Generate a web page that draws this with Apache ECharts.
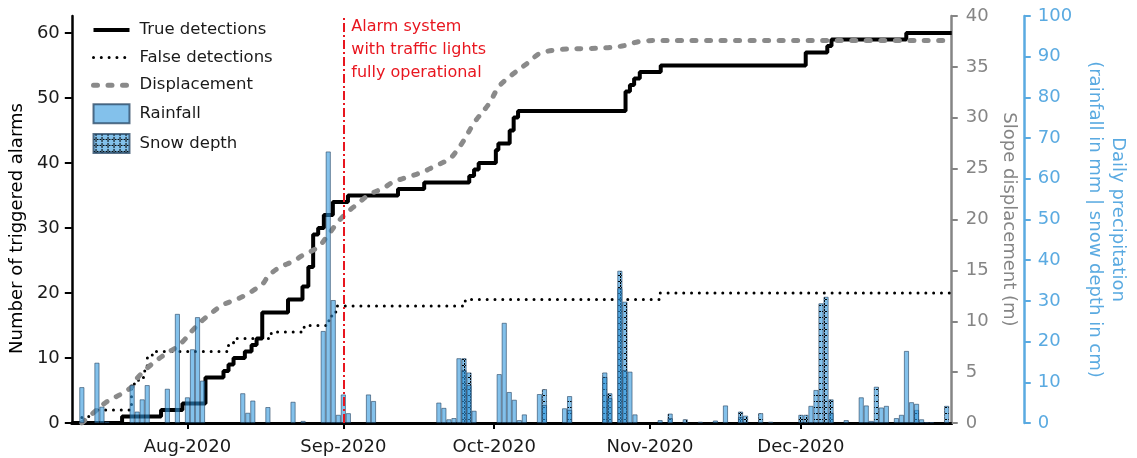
<!DOCTYPE html>
<html>
<head>
<meta charset="utf-8">
<script src="https://cdn.jsdelivr.net/npm/echarts@6/dist/echarts.min.js"></script>
<style>
  html, body { margin: 0; padding: 0; background: #fff; }
  #chart { width: 1137px; height: 458px; }
</style>
</head>
<body>
<div id="chart"></div>
<script>
// ---- data -------------------------------------------------------------
const periodStart = '2020-07-09';
const periodEnd = '2020-12-31';
const monthTicks = ['2020-08-01', '2020-09-01', '2020-10-01', '2020-11-01', '2020-12-01'];
const monthNames = ['Jan', 'Feb', 'Mar', 'Apr', 'May', 'Jun', 'Jul', 'Aug', 'Sep', 'Oct', 'Nov', 'Dec'];
const alarmCountTicks = [0, 10, 20, 30, 40, 50, 60];
const alarmSystemDate = '2020-09-01';
const alarmSystemNote = ['Alarm system', 'with traffic lights', 'fully operational'];

// cumulative number of true detections (time of each step, new total)
const trueDetections = [
  ['2020-07-09 00:00', 0], ['2020-07-19 00:00', 1], ['2020-07-26 18:00', 2], ['2020-07-31 00:00', 3],
  ['2020-08-04 14:00', 7], ['2020-08-08 04:00', 8], ['2020-08-09 04:00', 9], ['2020-08-10 04:00', 10],
  ['2020-08-12 10:00', 11], ['2020-08-13 18:00', 12], ['2020-08-14 18:00', 13], ['2020-08-15 21:00', 17],
  ['2020-08-21 00:00', 19], ['2020-08-23 21:00', 21], ['2020-08-25 01:00', 24], ['2020-08-26 00:00', 29],
  ['2020-08-27 00:00', 30], ['2020-08-28 03:00', 32], ['2020-08-29 22:00', 34], ['2020-09-01 22:00', 35],
  ['2020-09-11 21:00', 36], ['2020-09-17 02:00', 37], ['2020-09-26 01:00', 38], ['2020-09-27 00:00', 39],
  ['2020-09-27 22:00', 40], ['2020-10-01 08:00', 42], ['2020-10-01 20:00', 43], ['2020-10-04 02:00', 45],
  ['2020-10-04 21:00', 47], ['2020-10-05 18:00', 48], ['2020-10-27 03:00', 51], ['2020-10-28 00:00', 52],
  ['2020-10-28 20:00', 53], ['2020-10-29 23:00', 54], ['2020-11-03 03:00', 55], ['2020-12-01 23:00', 57],
  ['2020-12-06 06:00', 58], ['2020-12-07 02:00', 59], ['2020-12-21 23:00', 60], ['2020-12-31 00:00', 60]
];

// cumulative number of false detections
const falseDetections = [
  ['2020-07-09 00:00', 0], ['2020-07-11 00:00', 1], ['2020-07-13 05:00', 2], ['2020-07-20 21:00', 6],
  ['2020-07-22 06:00', 7], ['2020-07-23 06:00', 8], ['2020-07-24 00:00', 10], ['2020-07-25 00:00', 11],
  ['2020-08-09 04:00', 12], ['2020-08-10 04:00', 13], ['2020-08-17 16:00', 14], ['2020-08-24 05:00', 15],
  ['2020-08-29 03:00', 16], ['2020-08-29 17:00', 17], ['2020-08-30 12:00', 18], ['2020-09-25 06:00', 19],
  ['2020-11-03 00:00', 20], ['2020-12-31 00:00', 20]
];

// slope displacement (m)
const displacement = [
  ['2020-07-11', 0], ['2020-07-14', 1.3], ['2020-07-16', 2.1], ['2020-07-19', 2.9], ['2020-07-21', 3.6],
  ['2020-07-22', 4.4], ['2020-07-24', 5.4], ['2020-07-26', 6.2], ['2020-07-28', 6.9], ['2020-07-30', 7.5],
  ['2020-08-01', 8.5], ['2020-08-02', 9.1], ['2020-08-04', 10.1], ['2020-08-06', 10.9], ['2020-08-08', 11.6],
  ['2020-08-11', 12.2], ['2020-08-13', 12.7], ['2020-08-16', 13.7], ['2020-08-17', 14.4], ['2020-08-19', 15.2],
  ['2020-08-22', 15.9], ['2020-08-24', 16.5], ['2020-08-27', 17.3], ['2020-08-29', 18.5], ['2020-08-31', 19.8],
  ['2020-09-02', 20.8], ['2020-09-04', 21.6], ['2020-09-06', 22.4], ['2020-09-09', 23.1], ['2020-09-11', 23.7],
  ['2020-09-14', 24.2], ['2020-09-17', 24.7], ['2020-09-19', 25.2], ['2020-09-22', 25.9], ['2020-09-23', 26.4],
  ['2020-09-25', 27.8], ['2020-09-27', 29.5], ['2020-09-30', 31.4], ['2020-10-02', 33.1], ['2020-10-05', 34.4],
  ['2020-10-08', 35.5], ['2020-10-10', 36.3], ['2020-10-14', 36.7], ['2020-10-20', 36.8], ['2020-10-24', 36.9],
  ['2020-10-27', 37.1], ['2020-10-30', 37.5], ['2020-11-04', 37.6], ['2020-12-31', 37.6]
];

// daily rainfall (mm)
const rainfall = [
  ['2020-07-11', 8.8], ['2020-07-14', 14.8], ['2020-07-15', 4.0], ['2020-07-16', 0.3], ['2020-07-21', 9.3],
  ['2020-07-22', 2.8], ['2020-07-23', 5.8], ['2020-07-24', 9.3], ['2020-07-28', 8.4], ['2020-07-30', 26.8],
  ['2020-08-01', 6.3], ['2020-08-02', 18.1], ['2020-08-03', 26.0], ['2020-08-04', 10.4], ['2020-08-12', 7.3],
  ['2020-08-13', 2.5], ['2020-08-14', 5.5], ['2020-08-17', 3.9], ['2020-08-22', 5.2], ['2020-08-24', 0.5],
  ['2020-08-28', 22.6], ['2020-08-29', 66.7], ['2020-08-30', 30.2], ['2020-08-31', 2.0], ['2020-09-01', 7.0],
  ['2020-09-02', 2.4], ['2020-09-06', 7.0], ['2020-09-07', 5.4], ['2020-09-20', 5.0], ['2020-09-21', 3.7],
  ['2020-09-22', 0.9], ['2020-09-23', 1.2], ['2020-09-24', 15.9], ['2020-09-25', 13.0], ['2020-09-26', 9.3],
  ['2020-09-27', 3.0], ['2020-10-02', 12.0], ['2020-10-03', 24.6], ['2020-10-04', 7.6], ['2020-10-05', 5.7],
  ['2020-10-06', 0.7], ['2020-10-07', 2.1], ['2020-10-10', 7.1], ['2020-10-11', 4.4], ['2020-10-15', 3.6],
  ['2020-10-16', 3.2], ['2020-10-23', 11.3], ['2020-10-24', 6.1], ['2020-10-26', 33.1], ['2020-10-27', 13.0],
  ['2020-10-28', 12.6], ['2020-10-29', 2.1], ['2020-11-03', 0.7], ['2020-11-05', 1.2], ['2020-11-11', 0.3],
  ['2020-11-14', 0.6], ['2020-11-16', 4.3], ['2020-11-19', 1.5], ['2020-11-25', 0.3], ['2020-12-03', 4.2],
  ['2020-12-07', 2.5], ['2020-12-13', 6.3], ['2020-12-14', 4.3], ['2020-12-15', 0.5], ['2020-12-17', 3.8],
  ['2020-12-18', 4.2], ['2020-12-20', 1.2], ['2020-12-21', 2.0], ['2020-12-22', 17.7], ['2020-12-23', 5.1],
  ['2020-12-24', 4.7], ['2020-12-25', 0.9], ['2020-12-26', 0.2], ['2020-12-27', 0.2]
];

// daily snow depth (cm)
const snowDepth = [
  ['2020-09-25', 15.9], ['2020-09-26', 12.4], ['2020-10-11', 8.3], ['2020-10-16', 6.6], ['2020-10-23', 12.4],
  ['2020-10-24', 7.3], ['2020-10-26', 37.4], ['2020-10-27', 29.8], ['2020-11-05', 2.3], ['2020-11-08', 0.9],
  ['2020-11-19', 2.8], ['2020-11-20', 1.8], ['2020-11-23', 2.4], ['2020-12-01', 2.0], ['2020-12-02', 2.0],
  ['2020-12-04', 8.1], ['2020-12-05', 29.4], ['2020-12-06', 31.0], ['2020-12-07', 5.8], ['2020-12-10', 0.7],
  ['2020-12-16', 8.9], ['2020-12-24', 3.2], ['2020-12-30', 4.2]
];

// ---- helpers ----------------------------------------------------------
function ts(s) {
  const parts = s.split(' ');
  const [y, m, d] = parts[0].split('-').map(Number);
  let h = 0, mi = 0;
  if (parts[1]) [h, mi] = parts[1].split(':').map(Number);
  return Date.UTC(y, m - 1, d, h, mi);
}
const toSeries = arr => arr.map(([t, v]) => [ts(t), v]);
function monthLabel(v) {
  const d = new Date(v);
  return monthNames[d.getUTCMonth()] + '-' + d.getUTCFullYear();
}

const FONT = '"DejaVu Sans", "Liberation Sans", Arial, sans-serif';
const RAIN_FILL = 'rgba(48,152,222,0.6)';
const BAR_EDGE = 'rgba(35,65,95,0.75)';
const GREY = '#858585';
const DISP_GREY = '#8a8a8a';
const BLUE = '#5aaae1';
const RED = '#e8161f';

const trueStyle = { color: '#000', width: 4 };
const falseStyle = { color: '#000', width: 3, type: [0.01, 7.8], cap: 'round' };
const dispStyle = { color: DISP_GREY, width: 5, type: [4, 10.5], cap: 'round' };

// hatched fill used for snow depth bars
function snowPattern() {
  const c = document.createElement('canvas');
  c.width = 6; c.height = 6;
  const g = c.getContext('2d');
  g.fillStyle = RAIN_FILL;
  g.fillRect(0, 0, 6, 6);
  g.fillStyle = '#000';
  g.fillRect(2, 0, 1, 2);
  g.fillRect(2, 3, 1, 2);
  g.fillRect(0, 5, 2, 1);
  g.fillRect(3, 5, 2, 1);
  return c;
}

// ---- chart ------------------------------------------------------------
const chart = echarts.init(document.getElementById('chart'), null, { renderer: 'canvas' });
const monthTickValues = monthTicks.map(ts);
const hiddenMarker = { opacity: 0 };

chart.setOption({
  animation: false,
  textStyle: { fontFamily: FONT },
  grid: { left: 69, right: 176, top: 16, bottom: 35, containLabel: false },
  legend: {
    orient: 'vertical',
    left: 91,
    top: 20.5,
    padding: 0,
    itemWidth: 36,
    itemHeight: 19,
    itemGap: 8.6,
    selectedMode: false,
    textStyle: { fontSize: 16.5, lineHeight: 19, color: '#1a1a1a', fontFamily: FONT, padding: [0, 0, 0, 5] },
    data: [
      { name: 'True detections', itemStyle: hiddenMarker, lineStyle: trueStyle },
      { name: 'False detections', itemStyle: hiddenMarker, lineStyle: falseStyle },
      { name: 'Displacement', itemStyle: hiddenMarker, lineStyle: dispStyle },
      { name: 'Rainfall', icon: 'rect' },
      { name: 'Snow depth', icon: 'rect' }
    ]
  },
  xAxis: {
    type: 'value',
    min: ts(periodStart),
    max: ts(periodEnd),
    splitLine: { show: false },
    axisLine: { show: true, onZero: false, lineStyle: { color: '#000', width: 3 } },
    axisTick: { show: true, customValues: monthTickValues, length: 6, lineStyle: { color: '#000', width: 2 } },
    axisLabel: { customValues: monthTickValues, formatter: monthLabel, fontSize: 18, color: '#1a1a1a', margin: 15 }
  },
  yAxis: [
    {
      type: 'value',
      position: 'left',
      min: 0,
      max: 62.6,
      splitLine: { show: false },
      axisLine: { show: true, lineStyle: { color: '#000', width: 2.5 } },
      axisTick: { show: true, customValues: alarmCountTicks, length: 7, lineStyle: { color: '#000', width: 2 } },
      axisLabel: { customValues: alarmCountTicks, fontSize: 18, color: '#1a1a1a', margin: 12 },
      name: 'Number of triggered alarms',
      nameLocation: 'middle',
      nameGap: 42,
      nameTextStyle: { fontSize: 18, color: '#000', padding: [0, 18, 0, 0] }
    },
    {
      type: 'value',
      position: 'right',
      min: 0,
      max: 40,
      interval: 5,
      splitLine: { show: false },
      axisLine: { show: true, lineStyle: { color: GREY, width: 2.5 } },
      axisTick: { show: true, length: 6, lineStyle: { color: GREY, width: 2 } },
      axisLabel: { fontSize: 18, color: GREY, margin: 14 },
      name: 'Slope displacement (m)',
      nameLocation: 'middle',
      nameRotate: -90,
      nameGap: 41,
      nameTextStyle: { fontSize: 18, color: GREY }
    },
    {
      type: 'value',
      position: 'right',
      offset: 73,
      min: 0,
      max: 100,
      interval: 10,
      splitLine: { show: false },
      axisLine: { show: true, lineStyle: { color: BLUE, width: 2.5 } },
      axisTick: { show: true, length: 6, lineStyle: { color: BLUE, width: 2 } },
      axisLabel: { fontSize: 18, color: BLUE, margin: 13 },
      name: 'Daily precipitation\n(rainfall in mm | snow depth in cm)',
      nameLocation: 'middle',
      nameRotate: -90,
      nameGap: 55,
      nameTextStyle: { fontSize: 18, color: BLUE, lineHeight: 23 }
    }
  ],
  series: [
    {
      name: 'True detections',
      type: 'line',
      yAxisIndex: 0,
      step: 'end',
      symbol: 'none',
      z: 2,
      lineStyle: trueStyle,
      itemStyle: { color: '#000' },
      data: toSeries(trueDetections)
    },
    {
      name: 'False detections',
      type: 'line',
      yAxisIndex: 0,
      step: 'end',
      symbol: 'none',
      z: 2,
      lineStyle: falseStyle,
      itemStyle: { color: '#000' },
      data: toSeries(falseDetections)
    },
    {
      name: 'Displacement',
      type: 'line',
      yAxisIndex: 1,
      smooth: 0.35,
      symbol: 'none',
      z: 2,
      lineStyle: dispStyle,
      itemStyle: { color: DISP_GREY },
      data: toSeries(displacement)
    },
    {
      name: 'Snow depth',
      type: 'bar',
      yAxisIndex: 2,
      barWidth: 5,
      barGap: '-100%',
      z: 3,
      itemStyle: { color: { image: snowPattern(), repeat: 'repeat' }, borderColor: BAR_EDGE, borderWidth: 0.8 },
      data: toSeries(snowDepth)
    },
    {
      name: 'Rainfall',
      type: 'bar',
      yAxisIndex: 2,
      barWidth: 5,
      barGap: '-100%',
      z: 4,
      itemStyle: { color: RAIN_FILL, borderColor: BAR_EDGE, borderWidth: 0.8 },
      data: toSeries(rainfall)
    },
    {
      name: 'alarm-system',
      type: 'line',
      yAxisIndex: 0,
      z: 6,
      symbol: 'none',
      data: [],
      markLine: {
        silent: true,
        symbol: ['none', 'none'],
        label: { show: false },
        lineStyle: { color: RED, width: 2, type: [9, 3, 2, 3] },
        data: [{ xAxis: ts(alarmSystemDate) }]
      }
    }
  ]
});

// annotation next to the alarm-system line
const alarmX = chart.convertToPixel({ xAxisIndex: 0 }, ts(alarmSystemDate));
chart.setOption({
  graphic: [{
    type: 'text',
    left: alarmX + 8,
    top: 15,
    z: 10,
    style: {
      text: alarmSystemNote.join('\n'),
      fill: RED,
      font: '16px ' + FONT,
      lineHeight: 23
    }
  }]
});
</script>
</body>
</html>
